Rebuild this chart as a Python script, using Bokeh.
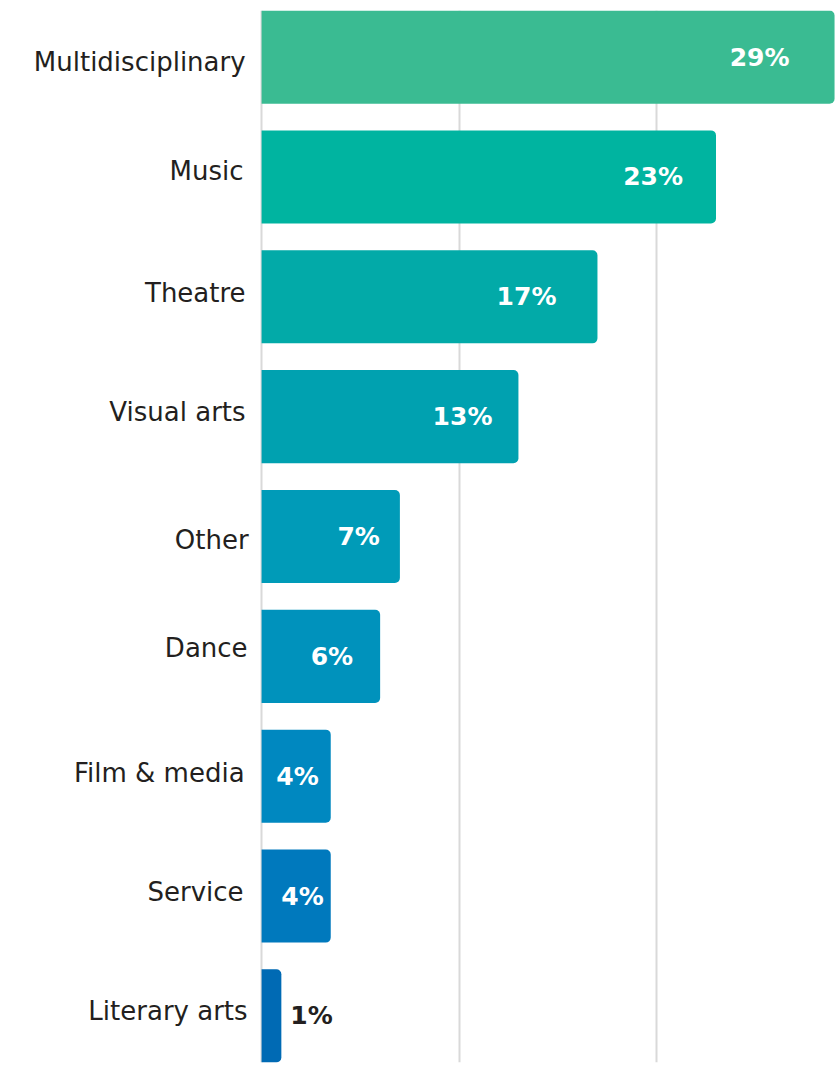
from bokeh.plotting import figure
from bokeh.models import ColumnDataSource, FactorRange, Range1d, FixedTicker
from bokeh.core.properties import value
from bokeh.embed import file_html
from bokeh.resources import INLINE

# ---- data ----
categories = ["Multidisciplinary", "Music", "Theatre", "Visual arts", "Other",
              "Dance", "Film & media", "Service", "Literary arts"]
shares = [29, 23, 17, 13, 7, 6, 3.5, 3.5, 1]
share_labels = ["29%", "23%", "17%", "13%", "7%", "6%", "4%", "4%", "1%"]

# ---- style ----
bar_colors = ["#3abb92", "#00b4a0", "#02aaa8", "#00a1b0", "#009bb8",
              "#0092bc", "#0088c0", "#0079bd", "#006ab4"]
label_offsets = [-45, -33, -41, -26, -20, -27, -12, -7, 9]
label_aligns = ["right"] * 8 + ["left"]
label_colors = ["#ffffff"] * 8 + ["#231f20"]
cat_label_dx = [-16, -18, -16, -16, -13, -14, -17, -18, -14]
cat_label_dy = [4.5, -5.5, -4, -4.5, 3.5, -8.5, -3.5, -4.5, -5]
FONT = "DejaVu Sans"

src = ColumnDataSource(dict(
    cat=categories, share=shares, lab=share_labels, color=bar_colors,
    off=label_offsets, align=label_aligns, tcolor=label_colors,
    zero=[0] * len(categories), cdx=cat_label_dx, cdy=cat_label_dy,
))

p = figure(
    width=838, height=1068,
    y_range=FactorRange(factors=list(reversed(categories)),
                        range_padding=-0.111, range_padding_units="absolute"),
    x_range=Range1d(-13.215, 29.2),
    output_backend="svg", toolbar_location=None,
    min_border_left=0, min_border_right=0, min_border_top=10, min_border_bottom=6,
)
p.outline_line_color = None
p.background_fill_color = "white"
p.border_fill_color = "white"

p.xaxis.visible = False
p.yaxis.visible = False
p.ygrid.grid_line_color = None
p.xgrid.ticker = FixedTicker(ticks=[0, 10, 20])
p.xgrid.grid_line_color = "#d9d9d9"
p.xgrid.grid_line_width = 2

# category labels
p.text(x="zero", y="cat", text="cat", source=src, x_offset="cdx", y_offset="cdy",
       text_align="right", text_baseline="alphabetic", text_color="#231f20",
       text_font=value(FONT), text_font_size="26px")

p.hbar(y="cat", right="share", left=0, height=0.777, source=src,
       fill_color="color", line_color=None, border_radius=(0, 5, 5, 0))

p.text(x="share", y="cat", text="lab", source=src, x_offset="off",
       text_align="align", text_baseline="middle", text_color="tcolor",
       text_font=value(FONT), text_font_size="25px", text_font_style="bold")

open("out.html", "w").write(file_html(p, INLINE))
